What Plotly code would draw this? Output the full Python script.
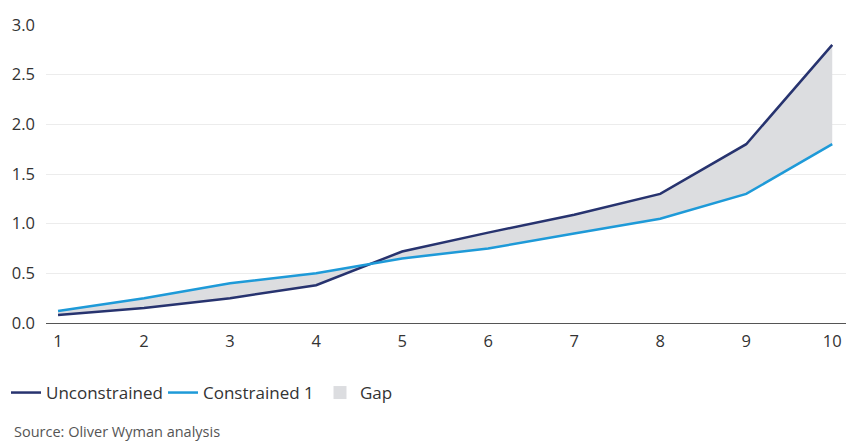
import plotly.graph_objects as go

x_vals = [1, 2, 3, 4, 5, 6, 7, 8, 9, 10]
unconstrained = [0.08, 0.15, 0.25, 0.38, 0.72, 0.91, 1.09, 1.30, 1.80, 2.80]
constrained_1 = [0.12, 0.25, 0.40, 0.50, 0.65, 0.75, 0.90, 1.05, 1.30, 1.80]
y_ticks = [0.0, 0.5, 1.0, 1.5, 2.0, 2.5, 3.0]
source_text = "Source: Oliver Wyman analysis"

NAVY = "#27336f"
BLUE = "#1e9ad8"
GAP = "#dcdde0"
FONT = "Open Sans"

fig = go.Figure()
# Gap fill (between the two lines)
fig.add_trace(go.Scatter(x=x_vals, y=constrained_1, mode="lines",
                         line=dict(width=0, color=GAP), showlegend=False,
                         hoverinfo="skip"))
fig.add_trace(go.Scatter(x=x_vals, y=unconstrained, mode="lines",
                         line=dict(width=0, color=GAP), fill="tonexty",
                         fillcolor=GAP, showlegend=False, hoverinfo="skip"))
fig.add_trace(go.Scatter(x=x_vals, y=unconstrained, mode="lines", name="Unconstrained",
                         line=dict(width=2.5, color=NAVY), legendrank=1))
fig.add_trace(go.Scatter(x=x_vals, y=constrained_1, mode="lines", name="Constrained 1",
                         line=dict(width=2.5, color=BLUE), legendrank=2))
# legend entry for the gap area
fig.add_trace(go.Scatter(x=[None], y=[None], mode="markers", name="Gap",
                         marker=dict(symbol="square", size=13, color=GAP),
                         legendrank=3))

fig.update_layout(
    width=862, height=446,
    margin=dict(l=46, r=16, t=25, b=123),
    plot_bgcolor="white", paper_bgcolor="white",
    font=dict(family=FONT, size=16.5, color="#333333"),
    xaxis=dict(range=[0.86, 10.16], tickvals=x_vals, showgrid=False, zeroline=False,
               showline=False, ticks="", ticklabelstandoff=6,
               tickfont=dict(size=16.5, color="#333333")),
    yaxis=dict(range=[0, 3.0], tickvals=y_ticks, tickformat=".1f",
               showgrid=True, gridcolor="#ececec", gridwidth=1,
               zeroline=True, zerolinecolor="#555555", zerolinewidth=1.2,
               showline=False, ticks="", ticklabelstandoff=10,
               tickfont=dict(size=16.5, color="#333333")),
    legend=dict(orientation="h", xref="container", yref="container",
                x=6 / 862, xanchor="left", y=1 - 393 / 446, yanchor="middle",
                font=dict(size=17, color="#333333"), itemwidth=30,
                entrywidth=112, entrywidthmode="pixels",
                traceorder="normal", bgcolor="rgba(0,0,0,0)"),
    showlegend=True,
    annotations=[dict(text=source_text, xref="paper", yref="paper",
                      x=-34 / 800, y=-(431 - 323) / 298, xanchor="left", yanchor="middle",
                      showarrow=False, font=dict(size=14.5, color="#555555"))],
)

fig.write_html("out.html", config={"displayModeBar": False},
               post_script="document.body.style.margin='0';")
